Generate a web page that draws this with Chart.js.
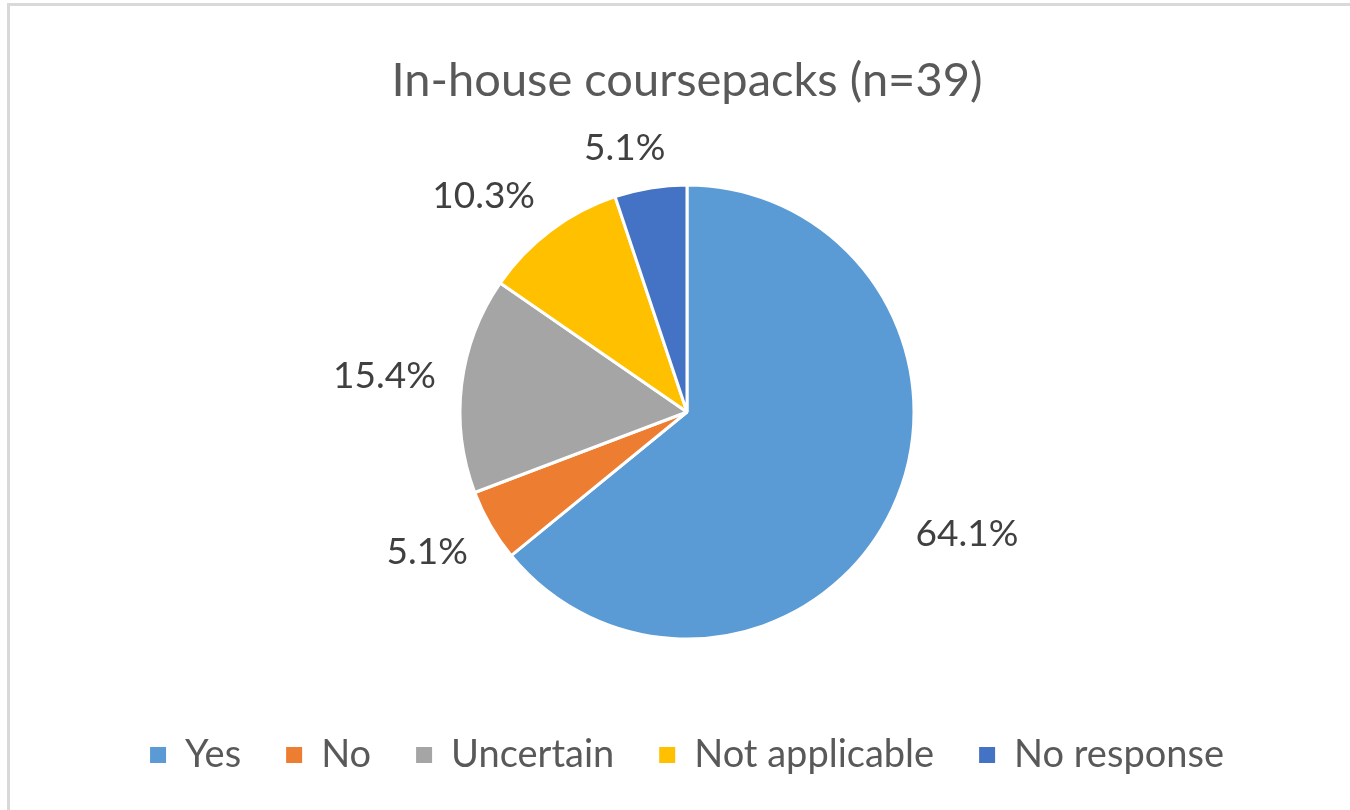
<!DOCTYPE html>
<html>
<head>
<meta charset="utf-8">
<script src="https://cdn.jsdelivr.net/npm/chart.js@4/dist/chart.umd.min.js"></script>
<style>
    html, body { margin: 0; padding: 0; background: #fff; overflow: hidden; }
    #frame {
        position: absolute; left: 7px; top: 3px; width: 1400px; height: 900px;
        border-left: 3px solid #d9d9d9; border-top: 3px solid #d9d9d9;
    }
    #graph { position: absolute; left: 0; top: 0; }
</style>
</head>
<body>
<div id="frame"></div>
<canvas id="graph" width="1350" height="810"></canvas>
<script>
// 回答数 (n=39)
var answer_labels = ["Yes", "No", "Uncertain", "Not applicable", "No response"];
var answer_counts = [25, 2, 6, 4, 2];
var answer_colors = ["#5B9BD5", "#ED7D31", "#A5A5A5", "#FFC000", "#4472C4"];
var chart_title   = "In-house coursepacks (n=39)";

var FONT = "Lato";

// -1..1 に丸める(ラベルの寄せ方向)
function lean(v){
    return Math.max(-1, Math.min(1, v / 0.3));
}

// 扇形の外側にパーセント表示を書く
var pct_labels = {
    id: "pct_labels",
    afterDatasetsDraw: function(chart){
        let ctx   = chart.ctx;
        let meta  = chart.getDatasetMeta(0);
        let data  = chart.data.datasets[0].data;
        let total = data.reduce(function(a, b){ return a + b; }, 0);

        ctx.save();
        ctx.font         = "37px " + FONT;
        ctx.fillStyle    = "#404040";
        ctx.textAlign    = "center";
        ctx.textBaseline = "middle";

        meta.data.forEach(function(arc, i){
            let p     = arc.getProps(["x", "y", "startAngle", "endAngle", "outerRadius"], true);
            let mid   = (p.startAngle + p.endAngle) / 2;
            let text  = (data[i] / total * 100).toFixed(1) + "%";
            let halfW = ctx.measureText(text).width / 2;
            let halfH = 14;
            //扇形の中心角方向に基準点を取り、そこからラベルの箱を外側へずらす
            let ax    = p.x + (p.outerRadius + 26) * Math.cos(mid);
            let ay    = p.y + (p.outerRadius + 26) * Math.sin(mid);
            ctx.fillText(text, ax + halfW * lean(Math.cos(mid)), ay + halfH * lean(Math.sin(mid)));
        });
        ctx.restore();
    }
};

window.addEventListener("load", function(){

    let ctx = document.getElementById("graph");

    new Chart(ctx, {
        type: "pie",
        data: {
            labels: answer_labels,
            datasets: [{
                data: answer_counts,
                backgroundColor: answer_colors,
                borderColor: "#ffffff",
                borderWidth: 3,
                radius: 227
            }]
        },
        options: {
            responsive: false,
            animation: false,
            layout: { padding: { left: 24, right: 0, top: 0, bottom: 26 } },
            plugins: {
                title: {
                    display: true,
                    text: chart_title,
                    color: "#595959",
                    font: { family: FONT, size: 47, weight: "normal" },
                    padding: { top: 53, bottom: 23.6 }
                },
                legend: {
                    position: "bottom",
                    labels: {
                        color: "#595959",
                        font: { family: FONT, size: 38 },
                        boxWidth: 16,
                        boxHeight: 16,
                        padding: 45,
                        generateLabels: function(chart){
                            let items = Chart.overrides.pie.plugins.legend.labels.generateLabels(chart);
                            items.forEach(function(it){
                                it.lineWidth   = 0;
                                it.strokeStyle = it.fillStyle;
                            });
                            return items;
                        }
                    }
                },
                tooltip: { enabled: false }
            }
        },
        plugins: [pct_labels]
    });
});
</script>
</body>
</html>
